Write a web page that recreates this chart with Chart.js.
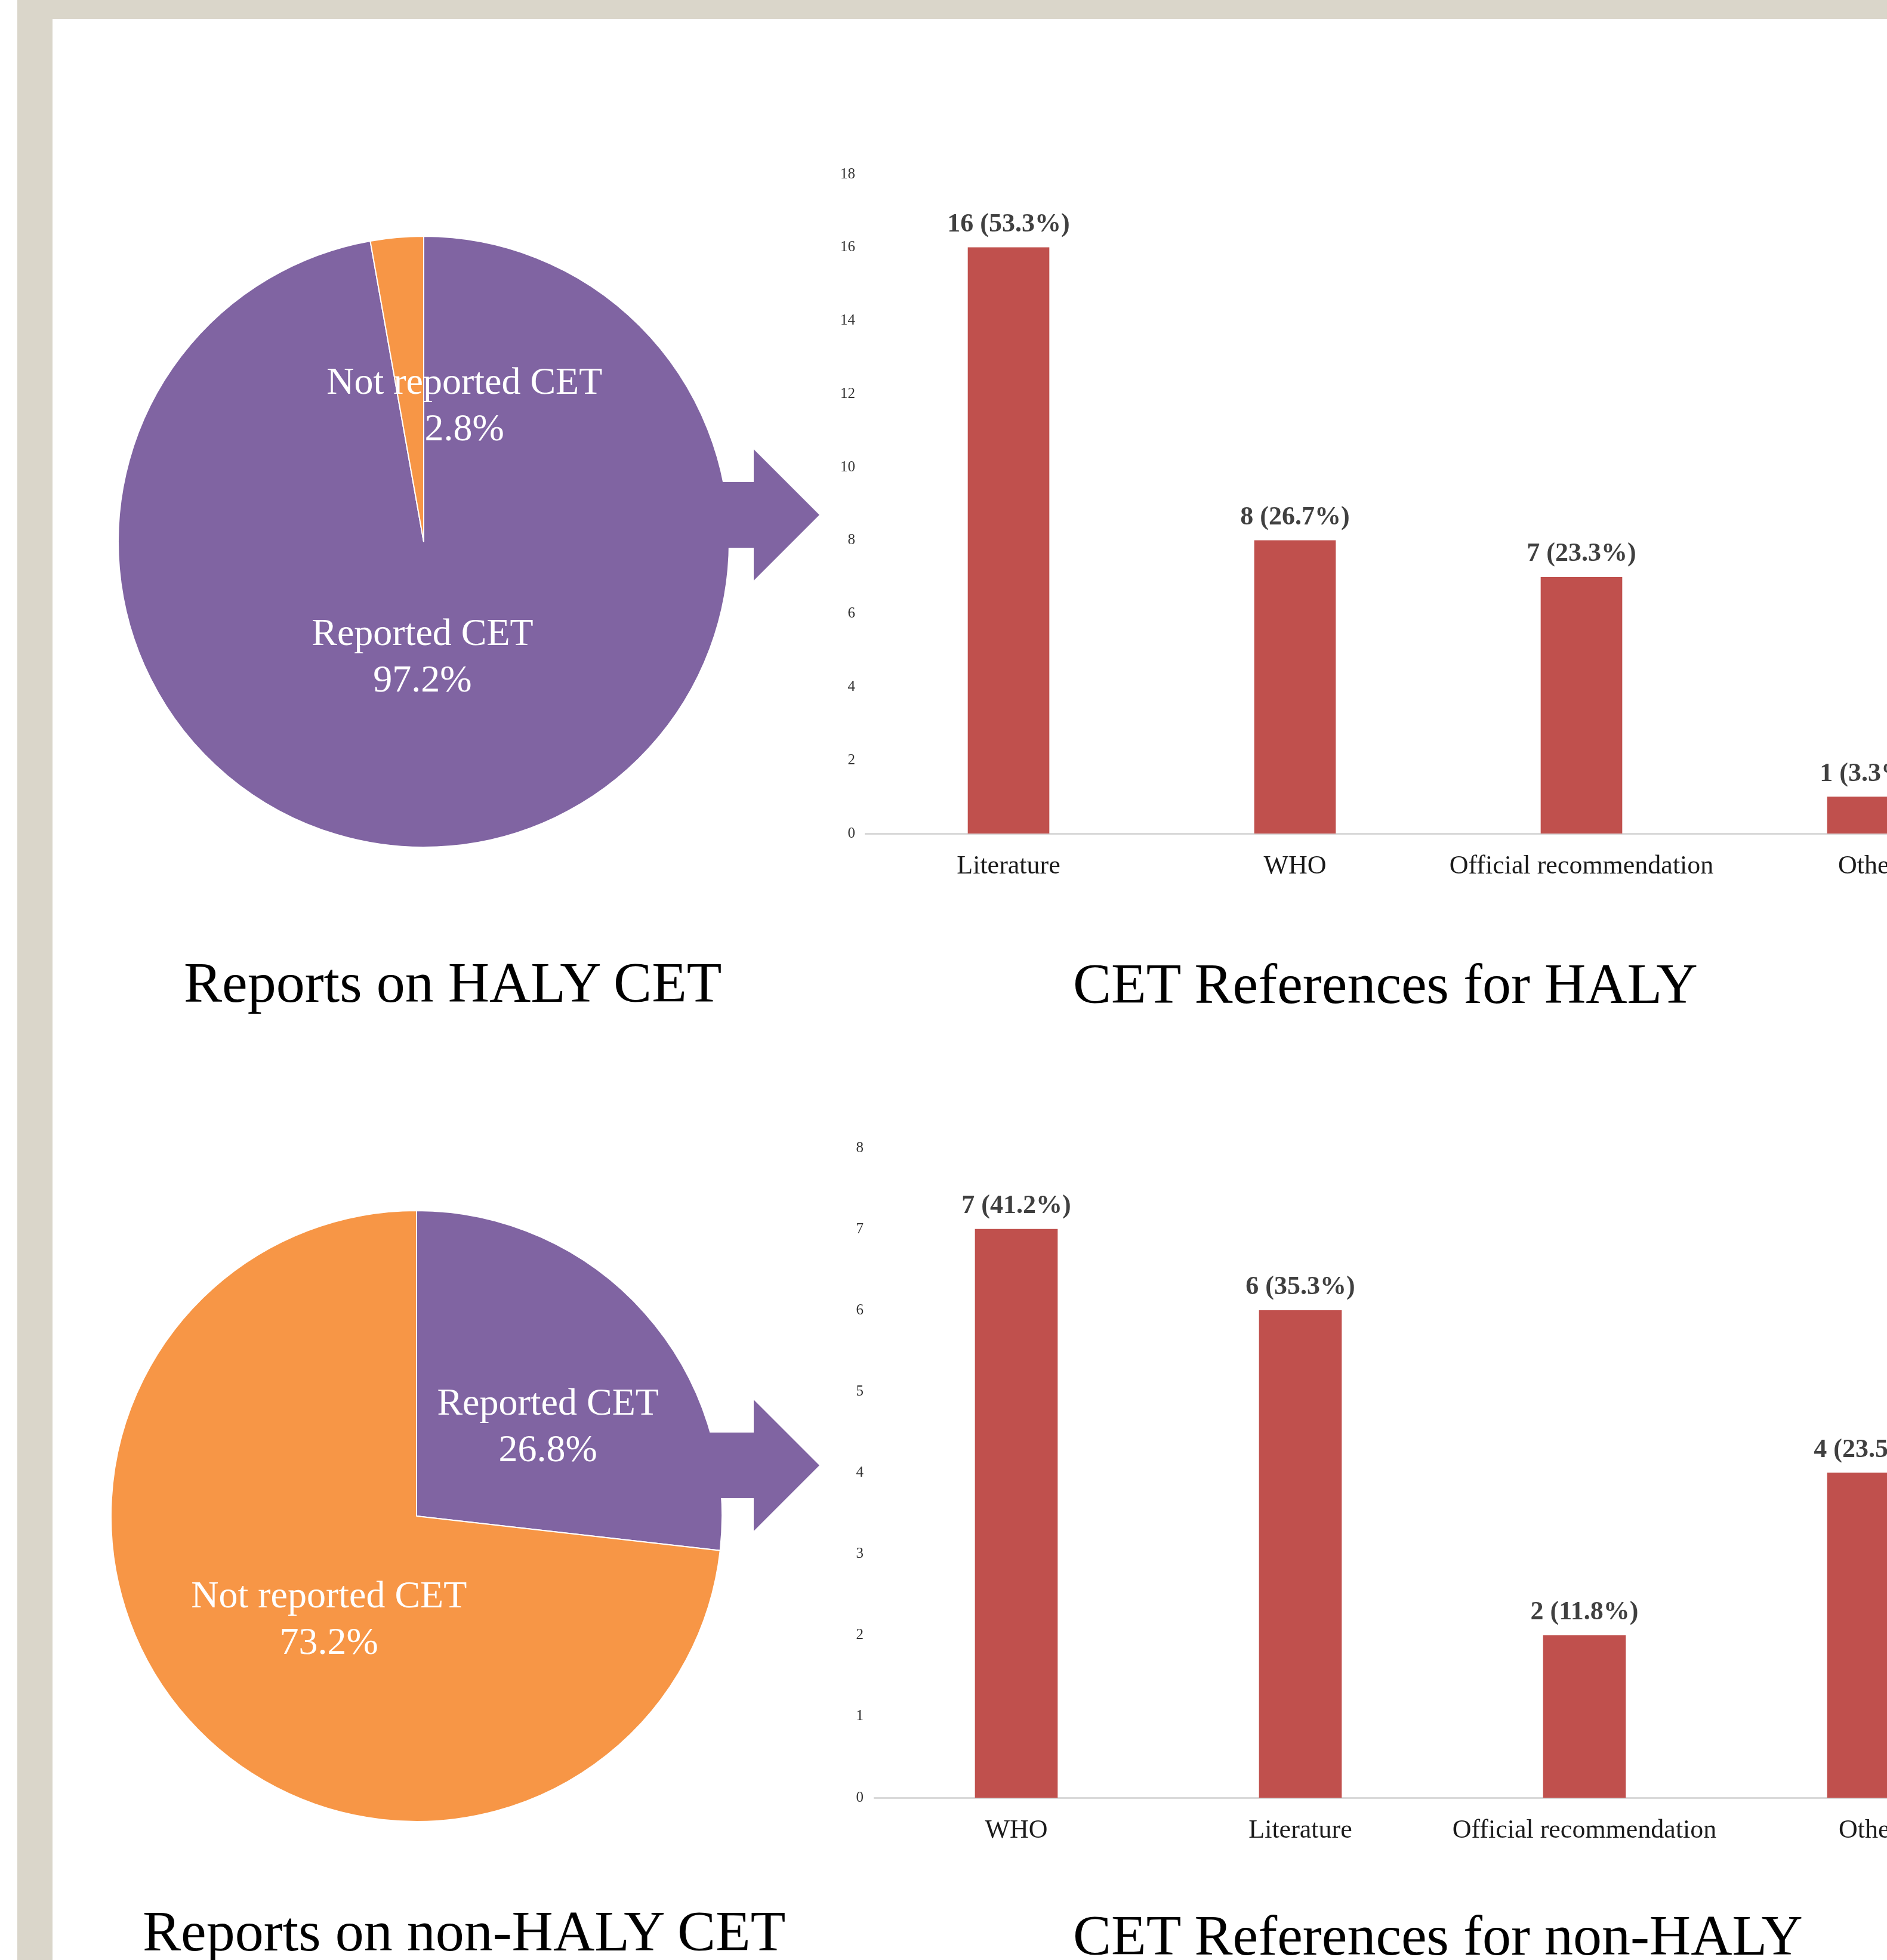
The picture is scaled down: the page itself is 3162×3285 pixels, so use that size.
<!DOCTYPE html>
<html>
<head>
<meta charset="utf-8">
<script src="https://cdn.jsdelivr.net/npm/chart.js@4.4.0/dist/chart.umd.min.js"></script>
<style>
  html, body { margin: 0; padding: 0; background: #fff; }
  #page { position: relative; width: 3162px; height: 3285px; overflow: hidden; background: #fff; }
  .band { position: absolute; background: #dad6ca; }
  canvas, svg { position: absolute; }
  .title { position: absolute; font-family: "Liberation Serif", "Times New Roman", serif; font-size: 96px; line-height: 1; color: #000; white-space: nowrap; }
</style>
</head>
<body>
<div id="page">
  <div class="band" style="left:29px; top:0; width:3133px; height:32px;"></div>
  <div class="band" style="left:29px; top:0; width:59px; height:3285px;"></div>

  <canvas id="pieHaly" width="1040" height="1040" style="left:190px; top:388px;"></canvas>
  <canvas id="pieNonHaly" width="1040" height="1040" style="left:178px; top:2021px;"></canvas>
  <canvas id="barHaly" width="2100" height="1250" style="left:1380px; top:250px;"></canvas>
  <canvas id="barNonHaly" width="2100" height="1250" style="left:1380px; top:1880px;"></canvas>

  <!-- arrows from each pie to its bar chart, drawn over the pie edge -->
  <svg width="3162" height="3285" style="left:0;top:0;pointer-events:none;">
    <polygon fill="#8064a2" points="1150,808 1263,808 1263,753 1373,863 1263,973 1263,918 1150,918"/>
    <polygon fill="#8064a2" points="1150,2401 1263,2401 1263,2346 1373,2456 1263,2566 1263,2511 1150,2511"/>
  </svg>

  <div class="title" style="left:308px; top:1599px;">Reports on HALY CET</div>
  <div class="title" style="left:1798px; top:1601px;">CET References for HALY</div>
  <div class="title" style="left:239px; top:3189px;">Reports on non-HALY CET</div>
  <div class="title" style="left:1798px; top:3196px;">CET References for non-HALY</div>
</div>

<script>
// --- DATA ---
const pieLabels = ["Reported CET", "Not reported CET"];
const halyPie = [97.2, 2.8];
const nonHalyPie = [26.8, 73.2];

const halyRefCats = ["Literature", "WHO", "Official recommendation", "Other"];
const halyRefCounts = [16, 8, 7, 1];
const halyRefPct = [53.3, 26.7, 23.3, 3.3];
const halyTickMax = 18;
const halyTickStep = 2;

const nonHalyRefCats = ["WHO", "Literature", "Official recommendation", "Other"];
const nonHalyRefCounts = [7, 6, 2, 4];
const nonHalyRefPct = [41.2, 35.3, 11.8, 23.5];
const nonHalyTickMax = 8;
const nonHalyTickStep = 1;

// --- STYLE ---
const PURPLE = "#8064a2";
const ORANGE = "#f79646";
const BAR_RED = "#c0504d";
const SERIF = '"Liberation Serif", "Times New Roman", serif';

Chart.defaults.animation = false;
Chart.defaults.responsive = false;
Chart.defaults.devicePixelRatio = 1;

// pie labels: two white lines, placed at a polar spot from the pie centre
const pieLabelPlugin = {
  id: "pieLabels",
  afterDatasetsDraw(chart, args, opts) {
    const ctx = chart.ctx;
    const arcs = chart.getDatasetMeta(0).data;
    const values = chart.data.datasets[0].data;
    ctx.save();
    ctx.font = "64px " + SERIF;
    ctx.fillStyle = "#fff";
    ctx.textAlign = "center";
    ctx.textBaseline = "middle";
    arcs.forEach((arc, i) => {
      const spot = opts.spots[i];
      const a = spot.angle * Math.PI / 180;
      const r = arc.outerRadius * spot.dist;
      const cx = arc.x + r * Math.sin(a);
      const cy = arc.y - r * Math.cos(a);
      ctx.fillText(chart.data.labels[i], cx, cy - 39);
      ctx.fillText(values[i].toFixed(1) + "%", cx, cy + 39);
    });
    ctx.restore();
  }
};

// bar labels: "n (pct%)" in bold above each bar
const barLabelPlugin = {
  id: "barLabels",
  afterDatasetsDraw(chart, args, opts) {
    const ctx = chart.ctx;
    const bars = chart.getDatasetMeta(0).data;
    const counts = chart.data.datasets[0].data;
    ctx.save();
    ctx.font = "bold 44px " + SERIF;
    ctx.fillStyle = "#404040";
    ctx.textAlign = "center";
    ctx.textBaseline = "alphabetic";
    bars.forEach((bar, i) => {
      ctx.fillText(counts[i] + " (" + opts.pct[i].toFixed(1) + "%)", bar.x, bar.y - 27);
    });
    ctx.restore();
  }
};

function makePie(id, data, colors, spots) {
  return new Chart(document.getElementById(id), {
    type: "pie",
    data: {
      labels: pieLabels,
      datasets: [{ data, backgroundColor: colors, borderColor: "#ffffff", borderWidth: 2 }]
    },
    options: {
      radius: 512,
      layout: { padding: 0 },
      plugins: {
        legend: { display: false },
        tooltip: { enabled: false },
        pieLabels: { spots }
      }
    },
    plugins: [pieLabelPlugin]
  });
}

function makeBars(id, cats, counts, pct, tickMax, tickStep, geo) {
  return new Chart(document.getElementById(id), {
    type: "bar",
    data: {
      labels: cats,
      datasets: [{ data: counts, backgroundColor: BAR_RED, barThickness: geo.barWidth }]
    },
    options: {
      layout: { padding: { top: geo.top, right: geo.right, bottom: 0, left: 0 } },
      plugins: {
        legend: { display: false },
        tooltip: { enabled: false },
        barLabels: { pct }
      },
      scales: {
        x: {
          grid: { display: false, drawTicks: false },
          border: { display: true, color: "#d9d9d9", width: 3 },
          ticks: {
            color: "#1a1a1a",
            padding: 33,
            maxRotation: 0,
            autoSkip: false,
            font: { family: SERIF, size: 44, lineHeight: 1 }
          },
          afterFit: (s) => { s.height = geo.xHeight; }
        },
        y: {
          min: 0,
          max: tickMax,
          grid: { display: false, drawTicks: false },
          border: { display: false },
          ticks: {
            stepSize: tickStep,
            color: "#333333",
            padding: geo.tickPad,
            font: { family: SERIF, size: 25 }
          },
          afterFit: (s) => { s.width = geo.yWidth; }
        }
      }
    },
    plugins: [barLabelPlugin]
  });
}

// --- RENDER ---
makePie("pieHaly", halyPie, [PURPLE, ORANGE], [
  { angle: 180.6, dist: 0.381 },
  { angle: 16.8, dist: 0.461 }
]);
makePie("pieNonHaly", nonHalyPie, [PURPLE, ORANGE], [
  { angle: 56.1, dist: 0.518 },
  { angle: 220.0, dist: 0.446 }
]);

makeBars("barHaly", halyRefCats, halyRefCounts, halyRefPct, halyTickMax, halyTickStep,
  { top: 42, right: 110, yWidth: 70, xHeight: 103, tickPad: 17, barWidth: 136 });
makeBars("barNonHaly", nonHalyRefCats, nonHalyRefCounts, nonHalyRefPct, nonHalyTickMax, nonHalyTickStep,
  { top: 44, right: 111, yWidth: 85, xHeight: 117, tickPad: 18, barWidth: 138 });
</script>
</body>
</html>
